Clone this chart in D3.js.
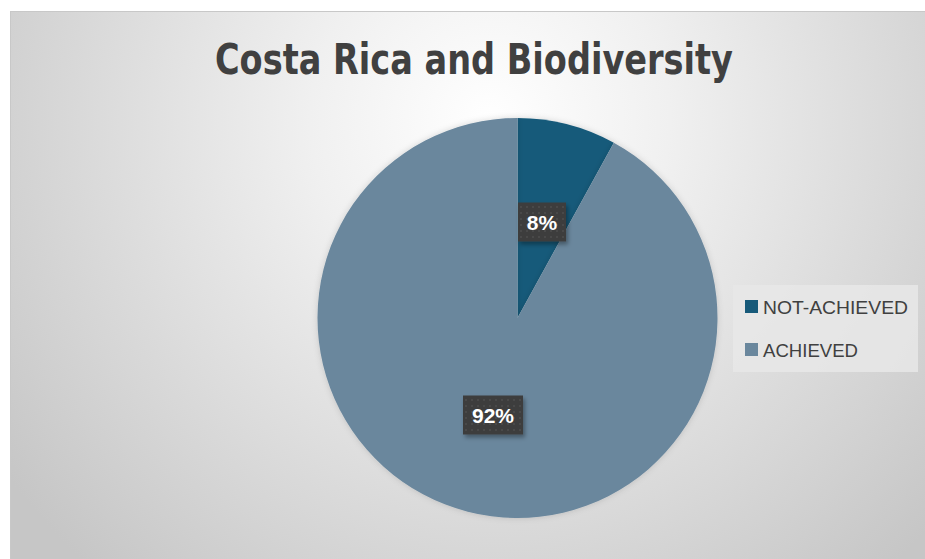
<!DOCTYPE html>
<html><head><meta charset="utf-8">
<script src="https://cdn.jsdelivr.net/npm/d3@7"></script>
<style>html,body{margin:0;padding:0;background:#fff;}svg{display:block;}</style>
</head><body>
<script>
const categories = ["NOT-ACHIEVED", "ACHIEVED"];
const values = [8, 92];
const labels = ["8%", "92%"];
const colors = ["#175a7a", "#6a879d"];
const title = "Costa Rica and Biodiversity";

const W = 925, H = 559;
const svg = d3.select("body").append("svg").attr("width", W).attr("height", H);
const defs = svg.append("defs");

const bg = defs.append("radialGradient").attr("id", "bg")
  .attr("gradientUnits", "userSpaceOnUse")
  .attr("cx", 490).attr("cy", 120).attr("r", 600);
bg.append("stop").attr("offset", "0").attr("stop-color", "#ffffff");
bg.append("stop").attr("offset", "0.3").attr("stop-color", "#f0f0f0");
bg.append("stop").attr("offset", "1").attr("stop-color", "#c6c6c6");

const pat = defs.append("pattern").attr("id", "dots").attr("patternUnits", "userSpaceOnUse")
  .attr("width", 6).attr("height", 6);
pat.append("rect").attr("width", 6).attr("height", 6).attr("fill", "#3e3e3e");
pat.append("circle").attr("cx", 3).attr("cy", 3).attr("r", 1).attr("fill", "#4c4c4c");

const sh = defs.append("filter").attr("id", "shadow").attr("x", "-20%").attr("y", "-20%").attr("width", "140%").attr("height", "140%");
sh.append("feDropShadow").attr("dx", 2).attr("dy", 3).attr("stdDeviation", 2).attr("flood-color", "#000").attr("flood-opacity", 0.35);

const pieSh = defs.append("filter").attr("id", "pieshadow").attr("x", "-20%").attr("y", "-20%").attr("width", "140%").attr("height", "140%");
pieSh.append("feDropShadow").attr("dx", 0).attr("dy", 0).attr("stdDeviation", 3).attr("flood-color", "#000").attr("flood-opacity", 0.15);

svg.append("rect").attr("x", 0).attr("y", 0).attr("width", W).attr("height", H).attr("fill", "#ffffff");
svg.append("rect").attr("x", 10.5).attr("y", 11.5).attr("width", W - 10).attr("height", H - 11)
  .attr("fill", "url(#bg)").attr("stroke", "#c8c8c8").attr("stroke-width", 1);

svg.append("text").attr("x", 474).attr("y", 74).attr("text-anchor", "middle")
  .attr("font-family", "'DejaVu Sans Condensed', 'DejaVu Sans', sans-serif").attr("font-weight", "bold")
  .attr("font-size", 42).attr("fill", "#404040")
  .attr("textLength", 518).attr("lengthAdjust", "spacingAndGlyphs")
  .text(title);

const cx = 517.5, cy = 318, R = 200;
const pie = d3.pie().sort(null).value(d => d);
const arcs = pie(values);
const arc = d3.arc().innerRadius(0).outerRadius(R);
const g = svg.append("g").attr("transform", `translate(${cx},${cy})`);
g.selectAll("path").data(arcs).join("path")
  .attr("d", arc).attr("fill", (d, i) => colors[i]).attr("filter", "url(#pieshadow)");

// data labels (offsets from pie centre)
const labelPos = [[24.5, -96], [-24.5, 97]];
const boxW = [48, 60];
const lg = g.selectAll("g.lbl").data(arcs).join("g").attr("class", "lbl")
  .attr("transform", (d, i) => `translate(${labelPos[i][0]},${labelPos[i][1]})`);
lg.each(function (d, i) {
  const sel = d3.select(this);
  const w = boxW[i], h = 39;
  sel.append("rect").attr("x", -w / 2).attr("y", -h / 2).attr("width", w).attr("height", h)
    .attr("fill", "url(#dots)").attr("filter", "url(#shadow)");
  sel.append("text").attr("x", 0).attr("y", 8).attr("text-anchor", "middle")
    .attr("font-family", "'Liberation Sans', Arial, sans-serif").attr("font-weight", "bold")
    .attr("font-size", 21).attr("fill", "#ffffff").text(labels[i]);
});

// legend
const leg = svg.append("g");
leg.append("rect").attr("x", 733).attr("y", 285).attr("width", 185).attr("height", 87).attr("fill", "#e8e8e8").attr("opacity", 0.85);
const items = leg.selectAll("g.item").data(categories).join("g").attr("class", "item")
  .attr("transform", (d, i) => `translate(745, ${300 + i * 43})`);
items.append("rect").attr("width", 13).attr("height", 13).attr("fill", (d, i) => colors[i]);
items.append("text").attr("x", 18).attr("y", 14)
  .attr("font-family", "'Liberation Sans', Arial, sans-serif").attr("font-size", 19).attr("fill", "#404040")
  .attr("textLength", (d, i) => i === 0 ? 145 : 95).attr("lengthAdjust", "spacingAndGlyphs")
  .text(d => d);
</script>
</body></html>
